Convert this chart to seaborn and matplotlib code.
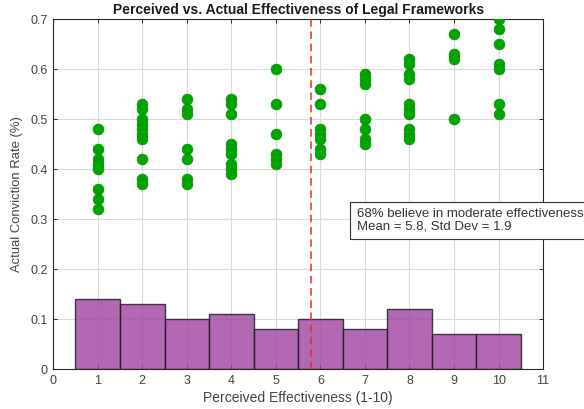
import numpy as np
import pandas as pd
import matplotlib
matplotlib.use("Agg")
import matplotlib.pyplot as plt
import seaborn as sns

# Perceived effectiveness score (1-10) and observed conviction rates per score
scores = [1, 2, 3, 4, 5, 6, 7, 8, 9, 10]
rates_1 = [0.48, 0.44, 0.42, 0.41, 0.40, 0.36, 0.34, 0.32]
rates_2 = [0.53, 0.52, 0.50, 0.49, 0.48, 0.47, 0.46, 0.42, 0.38, 0.37]
rates_3 = [0.54, 0.52, 0.51, 0.44, 0.42, 0.38, 0.37]
rates_4 = [0.54, 0.53, 0.51, 0.45, 0.44, 0.43, 0.41, 0.40, 0.39]
rates_5 = [0.60, 0.53, 0.47, 0.43, 0.42, 0.41]
rates_6 = [0.56, 0.53, 0.48, 0.47, 0.46, 0.44, 0.43]
rates_7 = [0.59, 0.58, 0.57, 0.50, 0.48, 0.46, 0.45]
rates_8 = [0.62, 0.61, 0.59, 0.58, 0.53, 0.52, 0.51, 0.48, 0.47, 0.46]
rates_9 = [0.67, 0.63, 0.62, 0.50]
rates_10 = [0.70, 0.68, 0.65, 0.61, 0.60, 0.53, 0.51]

# Share of respondents per perceived score
score_share = [0.14, 0.13, 0.10, 0.11, 0.08, 0.10, 0.08, 0.12, 0.07, 0.07]

mean_score = 5.8
std_score = 1.9
moderate_pct = 68

all_rates = [rates_1, rates_2, rates_3, rates_4, rates_5,
             rates_6, rates_7, rates_8, rates_9, rates_10]
points = pd.DataFrame({
    "score": [s for s, r in zip(scores, all_rates) for _ in r],
    "rate": [v for r in all_rates for v in r],
})
shares = pd.DataFrame({"score": scores, "share": score_share})

sns.set_theme(style="whitegrid")
plt.rcParams["font.family"] = ["Liberation Sans", "DejaVu Sans"]

fig = plt.figure(figsize=(5.84, 4.09), dpi=100)
ax = fig.add_axes([0.091, 0.097, 0.839, 0.856])
ax.set_facecolor("white")

# Distribution of perceived scores as touching bars of width 1
sns.barplot(data=shares, x="score", y="share", native_scale=True, width=1.0,
            color="#a347a3", saturation=1, alpha=0.82, errorbar=None,
            edgecolor="#1a1a1a", linewidth=1.0, ax=ax, zorder=2)

# Individual conviction rates
sns.scatterplot(data=points, x="score", y="rate", color="#00a600",
                edgecolor="#008f00", linewidth=0.5, s=60, ax=ax, zorder=3)

ax.axvline(mean_score, color="#e8292b", linestyle=(0, (5, 3)),
           linewidth=1.1, zorder=4)

ax.set_xlim(0, 11)
ax.set_ylim(0, 0.7)
ax.set_xticks(range(0, 12))
ax.set_xticklabels([str(i) for i in range(0, 12)])
ax.set_yticks(np.arange(0, 0.71, 0.1))
ax.set_yticklabels(["0", "0.1", "0.2", "0.3", "0.4", "0.5", "0.6", "0.7"])

ax.grid(True, color="#d9d9d9", linewidth=0.8)
ax.set_axisbelow(True)
for side in ["left", "right", "top", "bottom"]:
    ax.spines[side].set_visible(True)
    ax.spines[side].set_color("#262626")
    ax.spines[side].set_linewidth(0.8)
ax.tick_params(direction="in", length=3, width=0.7, colors="#262626",
               labelcolor="#444444", labelsize=9, top=True, right=True,
               left=True, bottom=True, labeltop=False, labelright=False, pad=4)

ax.set_xlabel("Perceived Effectiveness (1-10)", fontsize=10, color="#444444",
              labelpad=3)
ax.set_ylabel("Actual Conviction Rate (%)", fontsize=9.4, color="#444444",
              labelpad=5)
ax.set_title("Perceived vs. Actual Effectiveness of Legal Frameworks",
             fontsize=10, fontweight="bold", color="#1a1a1a", pad=4)

fig.text(0.611, 0.461,
         f"{moderate_pct}% believe in moderate effectiveness\n"
         f"Mean = {mean_score}, Std Dev = {std_score}",
         fontsize=9.5, color="#333333", ha="left", va="center",
         linespacing=1.05,
         bbox=dict(boxstyle="square,pad=0.5", facecolor="white",
                   edgecolor="#333333", linewidth=0.8))

fig.savefig("out.png", dpi=100, facecolor="white")
